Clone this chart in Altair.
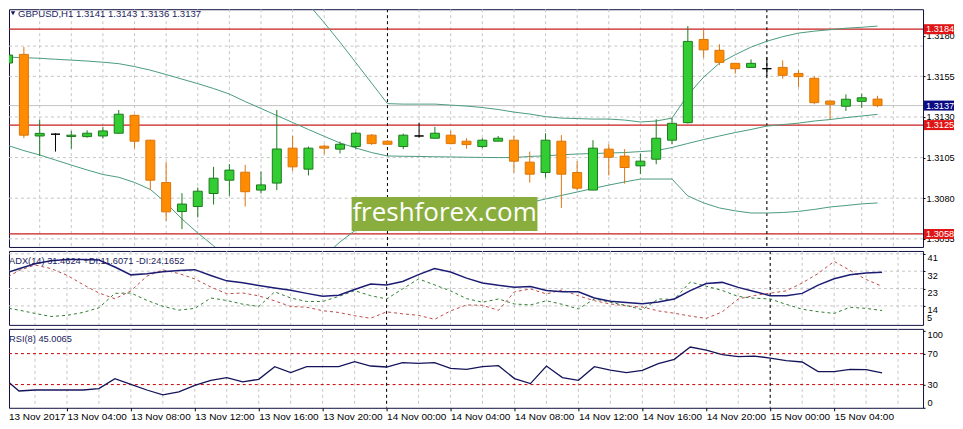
import json
import altair as alt
import pandas as pd

FONT = "Liberation Sans"

# ---------------- data ----------------
title_text = "GBPUSD,H1  1.3141 1.3143 1.3136 1.3137"
adx_title = "ADX(14) 31.4624 +DI:11.6071 -DI:24.1652"
rsi_title = "RSI(8) 45.0065"
watermark = "freshforex.com"

x_labels = ["13 Nov 2017", "13 Nov 04:00", "13 Nov 08:00", "13 Nov 12:00", "13 Nov 16:00",
            "13 Nov 20:00", "14 Nov 00:00", "14 Nov 04:00", "14 Nov 08:00", "14 Nov 12:00",
            "14 Nov 16:00", "14 Nov 20:00", "15 Nov 00:00", "15 Nov 04:00"]

opens = [1.31632, 1.31685, 1.31183, 1.31194, 1.31180, 1.31179, 1.31183, 1.31200, 1.31310, 1.31157,
         1.30896, 1.30718, 1.30749, 1.30829, 1.30911, 1.30960, 1.30850, 1.30893, 1.31108, 1.30979,
         1.31120, 1.31102, 1.31118, 1.31188, 1.31151, 1.31118, 1.31183, 1.31169, 1.31188, 1.31151,
         1.31118, 1.31151, 1.31157, 1.31022, 1.30958, 1.31151, 1.30958, 1.30850, 1.31102, 1.31059,
         1.30999, 1.31040, 1.31157, 1.31265, 1.31777, 1.31710, 1.31630, 1.31605, 1.31597, 1.31605,
         1.31568, 1.31538, 1.31398, 1.31366, 1.31396, 1.31410]
highs = [1.31785, 1.31730, 1.31282, 1.31200, 1.31214, 1.31218, 1.31239, 1.31343, 1.31315, 1.31160,
         1.31022, 1.30831, 1.30866, 1.30993, 1.31010, 1.31005, 1.30964, 1.31343, 1.31183, 1.31118,
         1.31130, 1.31148, 1.31208, 1.31195, 1.31155, 1.31197, 1.31265, 1.31239, 1.31214, 1.31169,
         1.31169, 1.31183, 1.31183, 1.31087, 1.31200, 1.31188, 1.31028, 1.31157, 1.31132, 1.31102,
         1.31075, 1.31286, 1.31292, 1.31859, 1.31839, 1.31747, 1.31632, 1.31654, 1.31669, 1.31648,
         1.31589, 1.31550, 1.31398, 1.31439, 1.31443, 1.31430]
lows = [1.31625, 1.31170, 1.31060, 1.31087, 1.31105, 1.31173, 1.31167, 1.31195, 1.31108, 1.30850,
        1.30661, 1.30610, 1.30681, 1.30761, 1.30815, 1.30749, 1.30829, 1.30850, 1.30968, 1.30940,
        1.31071, 1.31075, 1.31102, 1.31128, 1.31130, 1.31102, 1.31173, 1.31169, 1.31132, 1.31105,
        1.31108, 1.31151, 1.30958, 1.30896, 1.30927, 1.30740, 1.30850, 1.30850, 1.30940, 1.30890,
        1.30948, 1.31009, 1.31132, 1.31259, 1.31664, 1.31619, 1.31566, 1.31605, 1.31550, 1.31535,
        1.31484, 1.31378, 1.31286, 1.31337, 1.31357, 1.31360]
closes = [1.31681, 1.31188, 1.31199, 1.31194, 1.31188, 1.31200, 1.31214, 1.31317, 1.31151, 1.30911,
          1.30716, 1.30764, 1.30843, 1.30923, 1.30973, 1.30840, 1.30882, 1.31103, 1.30993, 1.31108,
          1.31108, 1.31132, 1.31200, 1.31136, 1.31132, 1.31188, 1.31183, 1.31200, 1.31136, 1.31130,
          1.31157, 1.31169, 1.31028, 1.30948, 1.31157, 1.30948, 1.30862, 1.31108, 1.31052, 1.30989,
          1.31028, 1.31169, 1.31261, 1.31765, 1.31713, 1.31636, 1.31597, 1.31630, 1.31597, 1.31556,
          1.31548, 1.31388, 1.31378, 1.31409, 1.31418, 1.31370]

bb_mid = [1.31668, 1.31665, 1.31661, 1.31655, 1.31650, 1.31644, 1.31637, 1.31628, 1.31610, 1.31588,
          1.31561, 1.31533, 1.31505, 1.31475, 1.31441, 1.31395, 1.31352, 1.31309, 1.31266, 1.31223,
          1.31181, 1.31140, 1.31109, 1.31081, 1.31060, 1.31058, 1.31057, 1.31055, 1.31054, 1.31052,
          1.31051, 1.31050, 1.31050, 1.31057, 1.31061, 1.31067, 1.31072, 1.31075, 1.31078, 1.31081,
          1.31087, 1.31093, 1.31112, 1.31137, 1.31161, 1.31183, 1.31204, 1.31223, 1.31244, 1.31253,
          1.31262, 1.31275, 1.31284, 1.31296, 1.31306, 1.31316]
bb_upper_start = 18
bb_upper = [1.32104, 1.31994, 1.31880, 1.31760, 1.31634, 1.31508, 1.31382, 1.31379, 1.31379, 1.31379,
            1.31373, 1.31367, 1.31358, 1.31346, 1.31330, 1.31318, 1.31302, 1.31293, 1.31290, 1.31287,
            1.31287, 1.31281, 1.31269, 1.31275, 1.31293, 1.31435, 1.31545, 1.31631, 1.31683, 1.31730,
            1.31766, 1.31794, 1.31816, 1.31828, 1.31837, 1.31846, 1.31852, 1.31859]
bb_lower = [1.31124, 1.31093, 1.31066, 1.31035, 1.31004, 1.30974, 1.30946, 1.30929, 1.30897, 1.30854,
            1.30771, 1.30672, 1.30586, 1.30507, 1.30427, 1.30365, 1.30322, 1.30304, 1.30316, 1.30365,
            1.30445, 1.30531, 1.30605, 1.30617, 1.30633, 1.30648, 1.30663, 1.30679, 1.30694, 1.30709,
            1.30725, 1.30740, 1.30759, 1.30774, 1.30795, 1.30817, 1.30838, 1.30860, 1.30881, 1.30900,
            1.30918, 1.30918, 1.30918, 1.30814, 1.30771, 1.30740, 1.30722, 1.30709, 1.30709, 1.30712,
            1.30719, 1.30731, 1.30746, 1.30755, 1.30765, 1.30771]

adx = [30.6, 33.3, 35.9, 37.4, 38.1, 38.1, 37.8, 34.2, 30.1, 30.7,
       31.7, 32.4, 32.8, 29.8, 27.0, 26.0, 24.6, 23.3, 22.1, 20.5,
       19.0, 19.5, 22.5, 25.4, 24.9, 26.7, 30.2, 33.4, 31.6, 28.4,
       25.9, 24.7, 23.7, 24.0, 22.0, 21.4, 21.3, 18.1, 16.4, 15.7,
       15.1, 16.0, 17.6, 21.9, 25.6, 26.2, 23.6, 21.5, 19.3, 19.3,
       20.5, 24.8, 28.1, 30.2, 31.1, 31.46]
plus_di = [13.3, 11.8, 10.1, 8.5, 9.1, 10.6, 13.0, 20.5, 20.7, 16.9,
           13.8, 11.8, 12.7, 18.1, 16.8, 14.9, 13.7, 21.3, 18.1, 16.3,
           16.3, 18.9, 21.9, 19.3, 17.6, 22.8, 28.0, 24.9, 21.8, 17.8,
           15.9, 17.6, 15.0, 14.5, 16.7, 14.8, 12.4, 17.6, 15.9, 14.2,
           12.0, 17.6, 17.4, 26.4, 24.2, 22.0, 18.9, 18.0, 17.6, 14.8,
           12.3, 11.0, 10.1, 13.3, 12.7, 11.61]
minus_di = [27.5, 32.4, 35.2, 33.4, 29.9, 25.1, 20.7, 17.7, 21.8, 29.4,
            32.7, 30.8, 28.0, 23.8, 20.3, 20.7, 19.2, 16.6, 13.7, 13.3,
            11.5, 10.6, 8.9, 7.6, 10.9, 9.9, 9.1, 7.0, 11.4, 14.5,
            14.3, 11.7, 21.3, 22.8, 20.2, 22.3, 19.2, 16.7, 15.0, 14.0,
            13.4, 11.4, 10.2, 8.7, 7.5, 10.9, 17.6, 19.4, 20.6, 21.8,
            25.9, 30.8, 37.1, 32.4, 27.7, 24.17]
rsi = [39.4, 21.7, 23.0, 23.0, 23.0, 23.0, 24.8, 37.7, 30.4, 23.0,
       16.6, 20.5, 29.1, 35.5, 39.0, 33.4, 36.8, 53.2, 45.5, 53.2,
       53.2, 53.2, 59.7, 54.0, 52.7, 58.4, 57.5, 58.4, 51.0, 49.7,
       53.2, 54.5, 37.7, 31.3, 54.0, 39.0, 35.5, 53.2, 48.8, 45.5,
       48.5, 57.1, 62.6, 78.5, 74.6, 68.7, 66.1, 66.9, 64.3, 61.0,
       59.2, 46.8, 46.8, 49.7, 49.4, 45.0]

price_ticks = [1.3180, 1.3155, 1.3130, 1.3105, 1.3080, 1.3055]
price_grid = [1.31736, 1.3155, 1.3130, 1.3105, 1.3080, 1.3055]
level_prices = [1.3184, 1.3125, 1.3058]
last_price = 1.3137
adx_ticks = [41, 32, 23, 14]
adx_extra_label = 5
rsi_ticks = [100, 70, 30, 0]
rsi_levels = [70, 30]
day_breaks = [24, 48]
grid_step = 2
label_step = 4

# ---------------- layout constants ----------------
W = 915                      # plot width (px)
PX_PER_BAR = 16
X_MIN = 6 / PX_PER_BAR       # compensates for the page margin
X_MAX = X_MIN + W / PX_PER_BAR
H_MAIN, H_ADX, H_RSI = 238, 74, 79
P_MIN, P_MAX = 1.3050, 1.31963

GRID = "#c6c6c6"
NAVY = "#14145a"
TXT = "#1c1c5c"
LFS = 9.2

# ---------------- frames ----------------
n = len(opens)
idx = list(range(n))
dirs = ["up" if c > o else ("down" if c < o else "doji") for o, c in zip(opens, closes)]
candles = pd.DataFrame({"i": idx, "open": opens, "high": highs, "low": lows,
                        "close": closes, "dir": dirs})
bands = pd.concat([
    pd.DataFrame({"i": idx, "v": bb_mid, "band": "mid"}),
    pd.DataFrame({"i": list(range(bb_upper_start, bb_upper_start + len(bb_upper))),
                  "v": bb_upper, "band": "upper"}),
    pd.DataFrame({"i": idx, "v": bb_lower, "band": "lower"}),
])
vgrid_df = pd.DataFrame({"i": [g for g in range(0, n + 2, grid_step) if X_MIN < g < X_MAX]})
sep_df = pd.DataFrame({"i": day_breaks})


def xenc(axis=None):
    return alt.X("i:Q", scale=alt.Scale(domain=[X_MIN, X_MAX], nice=False, zero=False),
                 axis=axis, title=None)


def vgrid(axis=None):
    return alt.Chart(vgrid_df).mark_rule(color=GRID, strokeDash=[3, 3], strokeWidth=1,
                                         clip=True).encode(x=xenc(axis))


def seps(axis=None):
    return alt.Chart(sep_df).mark_rule(color="#000000", strokeDash=[3, 3], strokeWidth=1,
                                       clip=True).encode(x=xenc(axis))


# ---------------- main panel ----------------
ysc = alt.Scale(domain=[P_MIN, P_MAX], nice=False, zero=False)
yax = alt.Axis(orient="right", values=price_ticks, format=".4f", grid=False, domain=False,
               tickSize=2, tickColor="#000", labelPadding=1, labelColor="#000",
               labelFont=FONT, labelFontSize=LFS, title=None)


def ym(field):
    return alt.Y(field, scale=ysc, axis=yax)


hgrid = alt.Chart(pd.DataFrame({"p": price_grid})).mark_rule(
    color=GRID, strokeDash=[3, 3], clip=True).encode(y=ym("p:Q"))
lastline = alt.Chart(pd.DataFrame({"p": [last_price]})).mark_rule(
    color="#c4c4c4", clip=True).encode(y=ym("p:Q"))
levels = alt.Chart(pd.DataFrame({"p": level_prices})).mark_rule(
    color="#c81e1e", strokeWidth=1.2, clip=True).encode(y=ym("p:Q"))

band_lines = alt.Chart(bands).mark_line(color="#4a9c7c", strokeWidth=1, clip=True).encode(
    x=xenc(), y=ym("v:Q"), detail="band:N", order="i:Q")

candle_style = {"up": ("#32cd32", "#1e7a1e", "#1e7a1e"),
                "down": ("#ff8c00", "#d9740c", "#dd7410"),
                "doji": ("#000000", "#000000", "#000000")}
candle_layers = []
for d, (fill, stroke, wick) in candle_style.items():
    sub = candles[candles["dir"] == d]
    candle_layers.append(alt.Chart(sub).mark_rule(color=wick, strokeWidth=1, clip=True).encode(
        x=xenc(), y=ym("low:Q"), y2="high:Q"))
    candle_layers.append(alt.Chart(sub).mark_bar(size=9, strokeWidth=1, fill=fill, stroke=stroke,
                                                 clip=True).encode(
        x=xenc(), y=ym("open:Q"), y2="close:Q"))

wm_df = pd.DataFrame({"t": [watermark]})
wm_box = alt.Chart(wm_df).mark_rect(color="#8aae3e").encode(
    x=alt.value(343), x2=alt.value(529), y=alt.value(188), y2=alt.value(222))
wm_text = alt.Chart(wm_df).mark_text(color="white", font="Open Sans", fontSize=26,
                                     align="center", baseline="middle").encode(
    x=alt.value(436), y=alt.value(204), text="t:N")

title_df = pd.DataFrame({"t": [title_text]})
tri = alt.Chart(title_df).mark_point(shape="triangle-down", filled=True, color=NAVY, size=20,
                                     opacity=1).encode(x=alt.value(4), y=alt.value(4))
ttl = alt.Chart(title_df).mark_text(align="left", baseline="top", font=FONT, fontSize=9.6,
                                    color=TXT).encode(x=alt.value(9), y=alt.value(0), text="t:N")

lvl_df = pd.DataFrame({"p": level_prices, "lab": [f"{v:.4f}" for v in level_prices]})
last_df = pd.DataFrame({"p": [last_price], "lab": [f"{last_price:.4f}"]})
lvl_boxes = alt.Chart(lvl_df).mark_rect(yOffset=-5, y2Offset=5, color="#e01414").encode(
    x=alt.value(W + 1), x2=alt.value(W + 31), y=ym("p:Q"), y2="p:Q")
last_box = alt.Chart(last_df).mark_rect(yOffset=-5, y2Offset=5, color="#0a0a84").encode(
    x=alt.value(W + 1), x2=alt.value(W + 31), y=ym("p:Q"), y2="p:Q")
box_text = alt.Chart(pd.concat([lvl_df, last_df])).mark_text(
    align="left", baseline="middle", color="white", font=FONT, fontSize=LFS).encode(
    x=alt.value(W + 3), y=ym("p:Q"), text="lab:N")

main = alt.layer(vgrid(), hgrid, lastline, levels, seps(), band_lines, *candle_layers,
                 wm_box, wm_text, tri, ttl, lvl_boxes, last_box, box_text).properties(
    width=W, height=H_MAIN)

# ---------------- ADX panel ----------------
asc = alt.Scale(domain=[4.15, 42.5], nice=False, zero=False)
aax = alt.Axis(orient="right", values=adx_ticks, grid=False, domain=False, tickSize=2,
               tickColor="#000", labelPadding=2, labelBaseline="top", labelColor="#000",
               labelFont=FONT, labelFontSize=LFS, title=None)


def ya(field):
    return alt.Y(field, scale=asc, axis=aax)


adx_grid = alt.Chart(pd.DataFrame({"v": adx_ticks})).mark_rule(
    color=GRID, strokeDash=[3, 3], clip=True).encode(y=ya("v:Q"))
adx_df = pd.DataFrame({"i": idx, "adx": adx, "pdi": plus_di, "mdi": minus_di})
adx_line = alt.Chart(adx_df).mark_line(color="#1c1c74", strokeWidth=1.5, clip=True).encode(
    x=xenc(), y=ya("adx:Q"), order="i:Q")
pdi_line = alt.Chart(adx_df).mark_line(color="#2f7d32", strokeWidth=1, strokeDash=[3, 3],
                                       clip=True).encode(x=xenc(), y=ya("pdi:Q"), order="i:Q")
mdi_line = alt.Chart(adx_df).mark_line(color="#c04848", strokeWidth=1, strokeDash=[3, 3],
                                       clip=True).encode(x=xenc(), y=ya("mdi:Q"), order="i:Q")
five = alt.Chart(pd.DataFrame({"v": [adx_extra_label]})).mark_text(
    align="left", baseline="bottom", font=FONT, fontSize=LFS, color="#000").encode(
    x=alt.value(W + 4), y=ya("v:Q"), text="v:N")
adx_ttl = alt.Chart(pd.DataFrame({"t": [adx_title]})).mark_text(
    align="left", baseline="middle", font=FONT, fontSize=9.3, color=TXT).encode(
    x=alt.value(0), y=alt.value(10), text="t:N")
adx_panel = alt.layer(vgrid(), adx_grid, seps(), mdi_line, pdi_line, adx_line, adx_ttl,
                      five).properties(width=W, height=H_ADX)

# ---------------- RSI panel ----------------
rsc = alt.Scale(domain=[0, 102], nice=False, zero=False)
rax = alt.Axis(orient="right", values=rsi_ticks, grid=False, domain=False, tickSize=2,
               tickColor="#000", labelPadding=2, labelFlush=4, labelColor="#000",
               labelFont=FONT, labelFontSize=LFS, title=None)
label_expr = json.dumps(x_labels) + "[round(datum.value / %d)]" % label_step
xax = alt.Axis(values=[v for v in range(0, n, label_step) if v > X_MIN],
               labelExpr=label_expr, labelAlign="left",
               labelBaseline="top", labelPadding=1, tickSize=3, tickColor="#000", domain=False,
               grid=False, labelFont=FONT, labelFontSize=10, labelColor="#000",
               labelOverlap=False, labelBound=False, title=None)


def yr(field):
    return alt.Y(field, scale=rsc, axis=rax)


rsi_df = pd.DataFrame({"i": idx, "v": rsi})
rsi_lvls = alt.Chart(pd.DataFrame({"v": rsi_levels})).mark_rule(
    color="#c80000", strokeDash=[3, 3], clip=True).encode(y=yr("v:Q"))
rsi_line = alt.Chart(rsi_df).mark_line(color=NAVY, strokeWidth=1.3, clip=True).encode(
    x=xenc(xax), y=yr("v:Q"), order="i:Q")
rsi_ttl = alt.Chart(pd.DataFrame({"t": [rsi_title]})).mark_text(
    align="left", baseline="middle", font=FONT, fontSize=9.3, color=TXT).encode(
    x=alt.value(0), y=alt.value(10), text="t:N")
first_lab = alt.Chart(pd.DataFrame({"t": [x_labels[0]]})).mark_text(
    align="left", baseline="top", font=FONT, fontSize=10, color="#000").encode(
    x=alt.value(0), y=alt.value(H_RSI + 4), text="t:N")
rsi_panel = alt.layer(vgrid(xax), rsi_lvls, seps(xax), rsi_line, rsi_ttl,
                      first_lab).properties(width=W, height=H_RSI)

chart = alt.vconcat(main, adx_panel, rsi_panel, spacing=2).properties(
    padding=0, background="white",
).configure_view(stroke="#101040", strokeWidth=1)

chart.save("out.html", embed_options={"renderer": "svg", "actions": False})
